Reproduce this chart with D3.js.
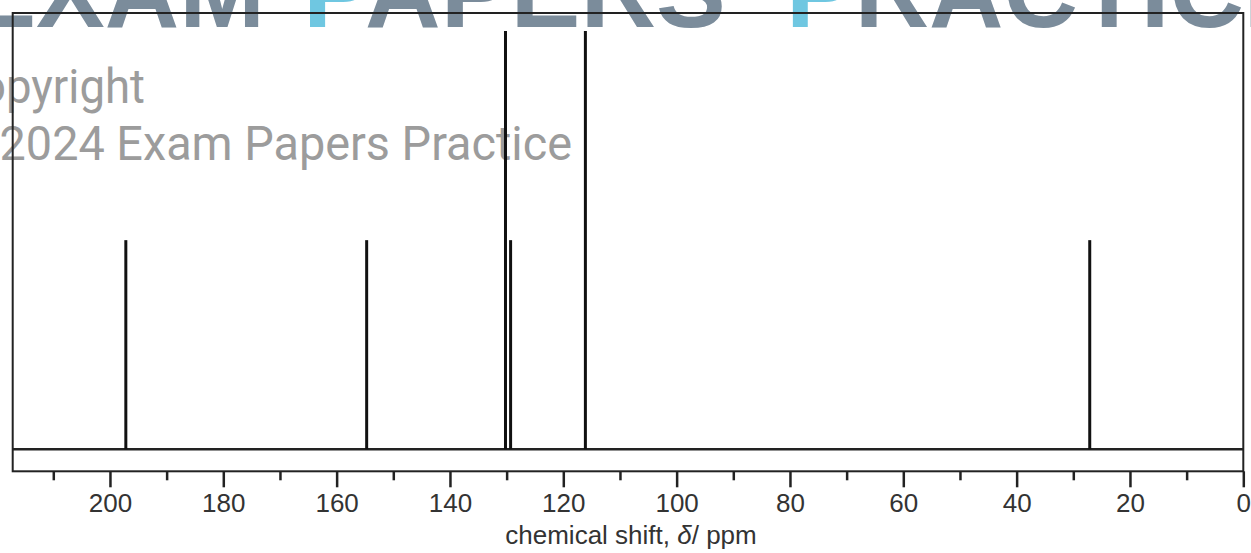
<!DOCTYPE html>
<html>
<head>
<meta charset="utf-8">
<script src="https://cdn.jsdelivr.net/npm/d3@7"></script>
<style>
  html, body { margin: 0; padding: 0; background: #fff; }
  svg { display: block; }
  .tick text { font-family: "Liberation Sans", Arial, sans-serif; }
</style>
</head>
<body>
<div id="chart"></div>
<script>
// peak positions (ppm) and relative heights
const shifts = [197.2, 154.7, 130.2, 129.3, 116.1, 27.1];
const intensities = [1, 1, 2, 1, 2, 1];
const majorTicks = [200, 180, 160, 140, 120, 100, 80, 60, 40, 20, 0];
const minorTicks = [210, 190, 170, 150, 130, 110, 90, 70, 50, 30, 10];

const W = 1251, H = 553;
const box = { left: 12.7, right: 1243.3, top: 13, bottom: 471.3 };
const baseY = 449.3;

const svg = d3.select('#chart').append('svg')
    .attr('width', W)
    .attr('height', H);

// watermark behind everything
const wm = svg.append('g')
    .attr('font-family', '"Liberation Sans", Arial, sans-serif')
    .attr('font-weight', 'bold')
    .attr('font-size', 103)
    .attr('fill', '#7b8c9b');

wm.append('text').attr('x', 265).attr('y', 27).attr('text-anchor', 'end').text('EXAM');

const w1 = wm.append('text').attr('x', 303).attr('y', 27)
    .attr('textLength', 423).attr('lengthAdjust', 'spacingAndGlyphs');
w1.append('tspan').attr('fill', '#6fc7e1').text('P');
w1.append('tspan').text('APERS');

const w2 = wm.append('text').attr('x', 786).attr('y', 27);
w2.append('tspan').attr('fill', '#6fc7e1').text('P');
w2.append('tspan').text('RACTICE');

const cp = svg.append('g')
    .attr('font-family', 'Roboto, "Liberation Sans", sans-serif')
    .attr('font-size', 48)
    .attr('fill', '#9c9c9c');

cp.append('g').attr('transform', 'translate(145,103) scale(0.95,1)')
    .append('text').attr('text-anchor', 'end').text('Copyright');
cp.append('g').attr('transform', 'translate(572,160) scale(0.975,1)')
    .append('text').attr('text-anchor', 'end').text('© 2024 Exam Papers Practice');

// scales
const x = d3.scaleLinear()
    .domain([(1243.3 - 12.7) / 5.6667, 0])
    .range([box.left, box.right]);

const y = d3.scaleLinear()
    .domain([0, 2])
    .range([baseY, 31]);

// frame
svg.append('rect')
    .attr('x', box.left)
    .attr('y', box.top)
    .attr('width', box.right - box.left)
    .attr('height', box.bottom - box.top)
    .attr('fill', 'none')
    .attr('stroke', '#222')
    .attr('stroke-width', 2);

svg.append('line')
    .attr('x1', box.left).attr('x2', box.right)
    .attr('y1', baseY).attr('y2', baseY)
    .attr('stroke', '#222')
    .attr('stroke-width', 2.5);

// peaks
svg.append('g').selectAll('line')
    .data(shifts)
    .enter().append('line')
    .attr('x1', d => x(d)).attr('x2', d => x(d))
    .attr('y1', baseY)
    .attr('y2', (d, i) => y(intensities[i]))
    .attr('stroke', '#111')
    .attr('stroke-width', 3);

// axes
const minorAxis = svg.append('g')
    .attr('transform', `translate(0,${box.bottom})`)
    .call(d3.axisBottom(x).tickValues(minorTicks).tickSize(9).tickFormat(''));

const majorAxis = svg.append('g')
    .attr('transform', `translate(0,${box.bottom})`)
    .call(d3.axisBottom(x).tickValues(majorTicks).tickSize(16).tickPadding(6).tickFormat(d3.format('d')));

[minorAxis, majorAxis].forEach(a => {
    a.select('.domain').remove();
    a.selectAll('.tick line').attr('stroke', '#222').attr('stroke-width', 2.5);
});

majorAxis.selectAll('.tick text')
    .attr('font-size', 26)
    .attr('fill', '#333');

const title = svg.append('text')
    .attr('x', 631)
    .attr('y', 544)
    .attr('text-anchor', 'middle')
    .attr('font-family', '"Liberation Sans", Arial, sans-serif')
    .attr('font-size', 26)
    .attr('fill', '#333');
title.append('tspan').text('chemical shift, ');
title.append('tspan').attr('font-style', 'italic').text('δ');
title.append('tspan').text('/ ppm');
</script>
</body>
</html>
